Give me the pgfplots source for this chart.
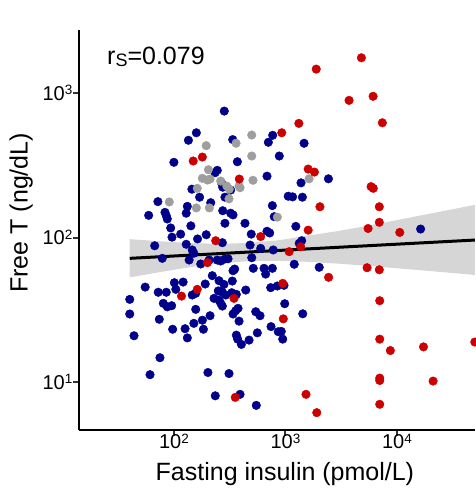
\documentclass[border=0pt]{standalone}
\usepackage{fontspec}
\setmainfont{Liberation Sans}
\usepackage{pgfplots}
\pgfplotsset{compat=1.18}
\definecolor{navydot}{RGB}{0,0,139}
\definecolor{greydot}{RGB}{158,158,158}
\definecolor{reddot}{RGB}{205,0,0}
\definecolor{bandgrey}{RGB}{153,153,153}
\definecolor{tickgrey}{RGB}{51,51,51}
\newcommand{\tp}[1]{10\raisebox{5.8pt}{\fontsize{13.5}{13.5}\selectfont #1}}
\pgfplotsset{dots/.style={only marks, mark=*, mark size=4.3pt}}

\begin{document}
\begin{tikzpicture}
\useasboundingbox (-79pt,-61pt) rectangle (396pt,430pt);
\begin{axis}[
  at={(0,0)}, anchor=south west,
  scale only axis, width=396pt, height=400pt,
  xmode=log, ymode=log,
  xmin=14.1, xmax=50100, ymin=4.68, ymax=2740,
  axis lines*=left,
  axis line style={line width=2.2pt, black},
  tick align=outside, tick pos=left,
  major tick length=6pt,
  tick style={line width=2pt, tickgrey},
  xminorticks=false, yminorticks=false,
  xtick={100,1000,10000},
  xticklabels={\tp{2},\tp{3},\tp{4}},
  ytick={10,100,1000},
  yticklabels={\tp{1},\tp{2},\tp{3}},
  ticklabel style={font=\fontsize{20}{22}\selectfont, inner sep=0pt},
  xticklabel style={anchor=base, yshift=-13pt},
  yticklabel style={anchor=base east, yshift=-7pt, xshift=-0.5pt},
  xlabel={Fasting insulin (pmol/L)},
  ylabel={Free T (ng/dL)},
  label style={font=\fontsize{25}{30}\selectfont},
  xlabel style={at={(axis description cs:0.520,-0.1267)}, anchor=base},
  ylabel style={at={(axis description cs:-0.1295,0.543)}, anchor=base},
]
% navy group
\addplot[navydot, dots] coordinates {
(283,753)(159,533)(135,473)(769,512)(703,458)(337,478)(1470,451)(100,333)
(371,336)(881,368)(245,293)(234,282)(684,267)(1380,240)(268,239)(283,228)
(274,224)(145,217)(170,191)(287,191)(71.9,178)(132,165)(214,175)(1060,194)
(1160,192)(1420,191)(764,167)(2430,256)(274,154)(323,148)(339,144)(794,140)
(59.4,143)(83.2,150)(85.5,142)(87.3,135)(129,148)(142,121)(287,126)(434,126)
(93.6,117)(115,106)(96.2,101)(163,98.2)(195,105)(272,92.5)(494,106)(684,111)
(723,108)(67.3,88.1)(129,90.2)(146,82.4)(151,78.2)(78.7,72.1)(137,70.2)(174,65.9)
(207,70.2)(245,70.2)(263,69.1)(286,71.3)(306,71.6)(482,89.1)(600,84.5)(499,72.8)
(515,61.5)(643,61.5)(665,56.1)(764,61.5)(351,60.8)(339,59.2)(221,54.7)(191,47.9)
(55.3,45.6)(101,48.9)(121,49.4)(254,50.5)(281,47.6)(334,50.2)(738,45.2)(72.4,42.0)
(85.5,42.0)(104,44.0)(146,40.2)(157,41.3)(250,42.9)(272,42.0)(292,40.2)(330,41.7)
(363,40.6)(229,38.1)(254,37.1)(263,35.2)(272,33.7)(441,43.5)(40.2,37.5)(40.2,29.7)
(80.4,35.2)(87.3,33.3)(95.5,33.9)(157,32.0)(211,28.9)(358,31.3)(376,32.5)(339,29.7)
(542,30.8)(592,28.9)(384,26.5)(74.0,27.3)(151,25.6)(180,26.9)(97.5,23.3)(126,23.5)
(184,23.3)(132,20.3)(43.9,21.0)(743,24.3)(560,22.0)(363,21.2)(373,19.9)(403,18.3)
(472,19.6)(75.0,14.8)(61.1,11.3)(202,11.7)(312,11.5)(235,8.07)(392,8.26)(548,6.93)
(863,22.4)(846,46.4)(971,46.9)(986,35.0)(1430,29.8)(918,22.5)(946,19.9)(1240,120)
(1400,95.5)(1330,91.6)(1200,65.6)(2010,62.5)(16300,115)(778,82.4)(323,214)
};
% grey group
\addplot[greydot, dots] coordinates {
(499,514)(361,451)(195,434)(499,368)(204,296)(180,258)(211,255)(200,251)
(512,250)(1630,256)(263,247)(298,228)(314,217)(384,228)(392,222)(162,220)
(312,186)(90.9,177)(159,161)(208,161)(846,139)
};
% red group
\addplot[reddot, dots] coordinates {
(4800,1760)(1890,1470)(3720,893)(6110,953)(7400,625)(1320,619)(927,533)(149,340)
(180,362)(1600,299)(1820,285)(386,255)(2040,164)(237,95.5)(600,102)(1600,113)
(1370,86.7)(1080,80.2)(200,67.3)(2440,53.3)(946,48.4)(162,44.0)(117,39.5)(346,38.1)
(957,27.5)(355,7.87)(7010,36.7)(7010,19.9)(8730,16.6)(17300,17.6)(49900,19.0)(7010,10.7)
(7010,10.3)(21100,10.2)(1530,8.26)(1910,6.17)(7010,7.05)(5860,226)(6140,220)(6950,164)
(6950,128)(5510,116)(10600,109)(5400,62.1)(6950,60.1)
};
% confidence band
\addplot[draw=none, no marks, fill=bandgrey, fill opacity=0.4] coordinates {
(40.2,97.9)(75.0,94.6)(139,92.0)(259,90.8)(482,92.2)(895,96.5)(1660,104)(3090,112)
(5740,122)(10700,134)(19800,147)(50100,169)
(50100,55.3)(19800,58.9)(10700,61.3)(5740,63.8)(3090,66.1)(1660,68.1)(895,69.4)(482,69.1)
(259,66.7)(139,62.6)(75.0,57.9)(40.2,53.2)
};
% fitted line
\addplot[black, no marks, line width=3pt] coordinates {(40.2,72.1)(50100,96.5)};
\node[anchor=base west, inner sep=0pt, font=\fontsize{25}{30}\selectfont]
  at (rel axis cs:0.0707,0.914) {r\raisebox{-2.5pt}{\fontsize{18}{18}\selectfont S}=0.079};
\end{axis}
\end{tikzpicture}
\end{document}
